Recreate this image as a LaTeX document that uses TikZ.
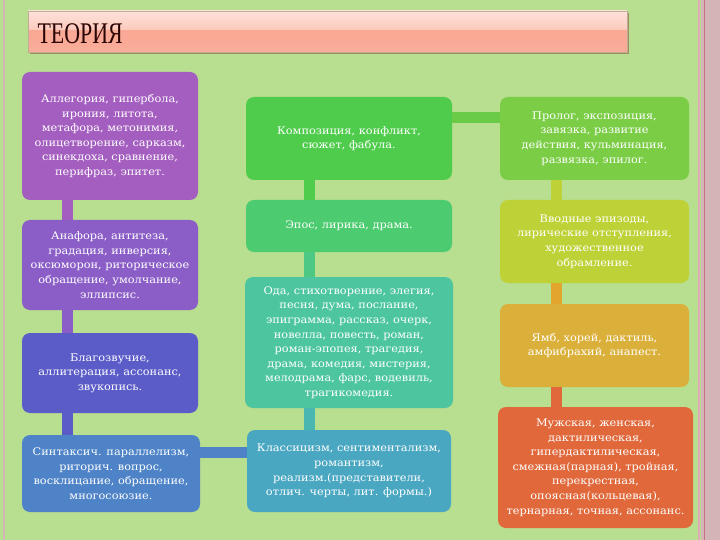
\documentclass[tikz,border=0pt]{standalone}
\usepackage{fontspec}
\setmainfont{DejaVu Serif}
\newfontfamily\boxfont[FakeStretch=1.08]{DejaVu Serif}
\newfontfamily\titlefont[FakeStretch=0.73]{Liberation Serif}

\definecolor{bggreen}{HTML}{B8DE90}
\definecolor{edgemauve}{HTML}{D4B4B4}
\definecolor{edgered}{HTML}{CC7088}
\definecolor{shadowtan}{HTML}{A08C60}
\definecolor{titletop}{HTML}{FEE2DA}
\definecolor{titlemid}{HTML}{FCC8BB}
\definecolor{titlelow}{HTML}{F9A894}
\definecolor{titletext}{HTML}{2A0505}
\definecolor{cpurple}{HTML}{A45EC0}
\definecolor{cviolet}{HTML}{8B5EC7}
\definecolor{cindigo}{HTML}{5B5CC8}
\definecolor{cblue}{HTML}{4E83C7}
\definecolor{cgreen}{HTML}{4FCC4C}
\definecolor{cgreenteal}{HTML}{4DCB70}
\definecolor{cteal}{HTML}{4DC6A0}
\definecolor{ccyan}{HTML}{4AA7C2}
\definecolor{cleaf}{HTML}{7BCD45}
\definecolor{clime}{HTML}{BED136}
\definecolor{cgold}{HTML}{DBB03A}
\definecolor{corange}{HTML}{E0683A}
\definecolor{clink}{HTML}{6ACB47}

\begin{document}
\begin{tikzpicture}[x=1pt,y=-1pt,
  box/.style={rounded corners=8pt,text=white,align=center,inner sep=0pt,
    font=\boxfont\fontsize{10.5}{14.6}\selectfont},
  link/.style={line width=11pt}]
  \useasboundingbox (0,0) rectangle (720,540);
  \fill[bggreen] (0,0) rectangle (720,540);
  \fill[edgemauve] (701,0) rectangle (720,540);
  \draw[edgemauve,line width=2pt] (4,0) -- (4,540);
  \draw[edgered!60,line width=1.5pt] (699,0) -- (699,540);
  \draw[edgered,line width=0.8pt] (704,0) -- (704,540);

  % title bar
  \fill[shadowtan] (29.5,13) rectangle (628.5,54);
  \shade[top color=titletop,bottom color=titlemid] (28,11) rectangle (627,31);
  \shade[top color=titlelow,bottom color=titlelow!85!titlemid] (28,31) rectangle (627,52);
  \draw[shadowtan!70] (28,11) rectangle (627,52);
  \node[anchor=base west,text=titletext,font=\titlefont\fontsize{30}{30}\selectfont] (title) at (34,44) {ТЕОРИЯ};

  % column 1
  \node[box,fill=cpurple,minimum width=176,minimum height=128] (allegory) at (110,136)
    {Аллегория, гипербола,\\ ирония, литота,\\ метафора, метонимия,\\ олицетворение, сарказм,\\ синекдоха, сравнение,\\ перифраз, эпитет.};
  \node[box,fill=cviolet,minimum width=176,minimum height=90] (anaphora) at (110,265)
    {Анафора, антитеза,\\ градация, инверсия,\\ оксюморон, риторическое\\ обращение, умолчание,\\ эллипсис.};
  \node[box,fill=cindigo,minimum width=176,minimum height=80] (sound) at (110,373)
    {Благозвучие,\\ аллитерация, ассонанс,\\ звукопись.};
  \node[box,fill=cblue,minimum width=178,minimum height=77] (syntax) at (111,473.5)
    {Синтаксич. параллелизм,\\ риторич. вопрос,\\ восклицание, обращение,\\ многосоюзие.};

  % column 2
  \node[box,fill=cgreen,minimum width=206,minimum height=83] (composition) at (349,138.5)
    {Композиция, конфликт,\\ сюжет, фабула.};
  \node[box,fill=cgreenteal,minimum width=206,minimum height=52] (kinds) at (349,226)
    {Эпос, лирика, драма.};
  \node[box,fill=cteal,minimum width=208,minimum height=131] (genres) at (349,342.5)
    {Ода, стихотворение, элегия,\\ песня, дума, послание,\\ эпиграмма, рассказ, очерк,\\ новелла, повесть, роман,\\ роман-эпопея, трагедия,\\ драма, комедия, мистерия,\\ мелодрама, фарс, водевиль,\\ трагикомедия.};
  \node[box,fill=ccyan,minimum width=204,minimum height=82] (trends) at (349,471)
    {Классицизм, сентиментализм,\\ романтизм,\\ реализм.(представители,\\ отлич. черты, лит. формы.)};

  % column 3
  \node[box,fill=cleaf,minimum width=189,minimum height=83] (plot) at (594.5,138.5)
    {Пролог, экспозиция,\\ завязка, развитие\\ действия, кульминация,\\ развязка, эпилог.};
  \node[box,fill=clime,minimum width=189,minimum height=83] (episodes) at (594.5,241.5)
    {Вводные эпизоды,\\ лирические отступления,\\ художественное\\ обрамление.};
  \node[box,fill=cgold,minimum width=189,minimum height=83] (metre) at (594.5,345.5)
    {Ямб, хорей, дактиль,\\ амфибрахий, анапест.};
  \node[box,fill=corange,minimum width=195,minimum height=121] (rhyme) at (595.5,467.5)
    {Мужская, женская,\\ дактилическая,\\ гипердактилическая,\\ смежная(парная), тройная,\\ перекрестная,\\ опоясная(кольцевая),\\ тернарная, точная, ассонанс.};

  % connectors
  \draw[link,cpurple] ([xshift=46]allegory.south west) -- ([xshift=46]anaphora.north west);
  \draw[link,cviolet] ([xshift=46]anaphora.south west) -- ([xshift=46]sound.north west);
  \draw[link,cindigo] ([xshift=46]sound.south west) -- ([xshift=46]syntax.north west);
  \draw[link,cgreen] ([xshift=64]composition.south west) -- ([xshift=64]kinds.north west);
  \draw[link,cgreenteal!60!cteal] ([xshift=64]kinds.south west) -- ([xshift=65]genres.north west);
  \draw[link,cteal!50!ccyan] ([xshift=65]genres.south west) -- ([xshift=63]trends.north west);
  \draw[link,clime] ([xshift=57]plot.south west) -- ([xshift=57]episodes.north west);
  \draw[link,cgold!80!orange] ([xshift=57]episodes.south west) -- ([xshift=57]metre.north west);
  \draw[link,corange] ([xshift=57]metre.south west) -- ([xshift=59]rhyme.north west);
  \draw[link,cblue] ([yshift=-18]syntax.north east) -- ([yshift=-18]syntax.north east -| trends.west);
  \draw[link,clink] ([yshift=-21]composition.north east) -- ([yshift=-21]composition.north east -| plot.west);
\end{tikzpicture}
\end{document}
